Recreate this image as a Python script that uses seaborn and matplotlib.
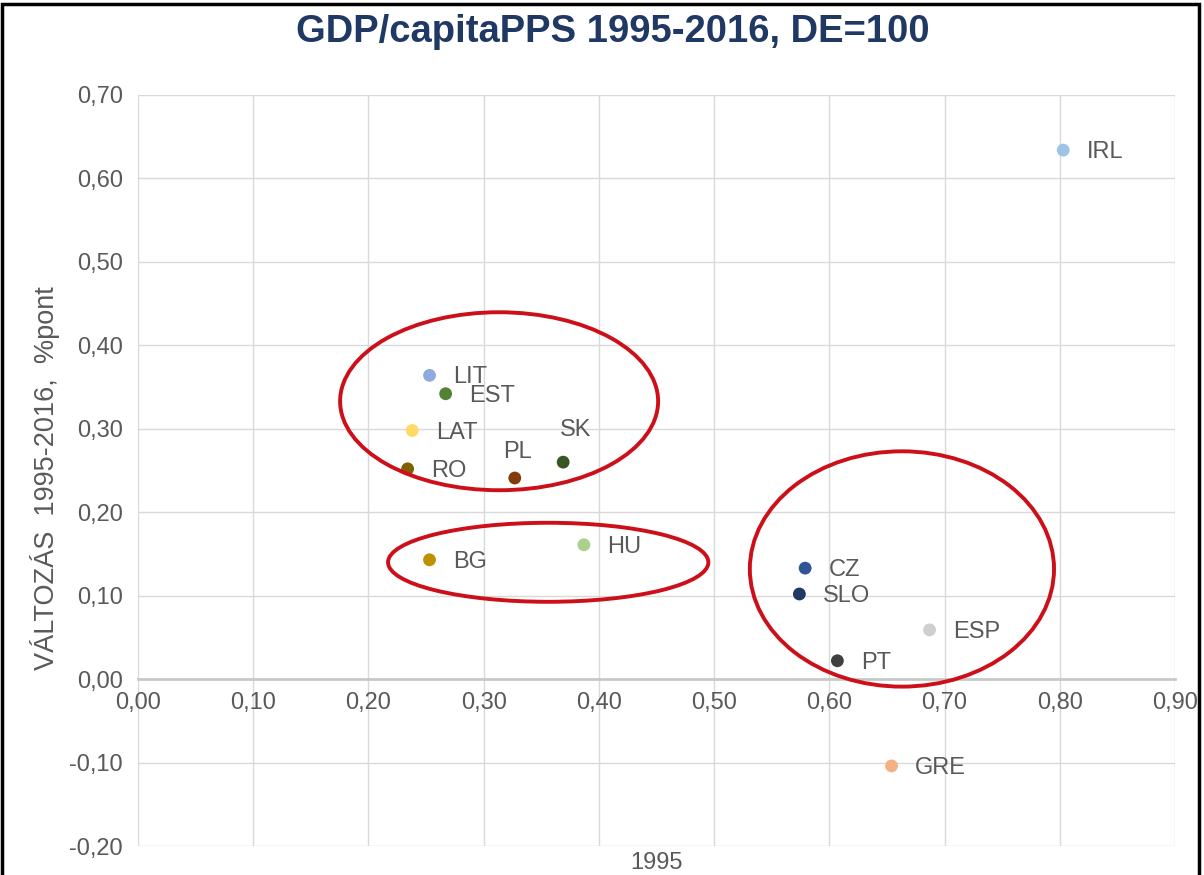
import matplotlib
matplotlib.use("Agg")
import matplotlib.pyplot as plt
import seaborn as sns
import pandas as pd
from matplotlib.patches import Ellipse, Rectangle

# ---- data ----
countries = ["IRL", "LIT", "EST", "LAT", "RO", "PL", "SK", "BG", "HU",
             "CZ", "SLO", "ESP", "PT", "GRE"]
gdp_1995 = [0.803, 0.253, 0.267, 0.238, 0.234, 0.327, 0.369, 0.253, 0.387,
            0.579, 0.574, 0.687, 0.607, 0.654]
change_1995_2016 = [0.634, 0.364, 0.342, 0.298, 0.252, 0.241, 0.260, 0.143, 0.161,
                    0.133, 0.102, 0.059, 0.022, -0.104]
x_ticks = [0.0, 0.1, 0.2, 0.3, 0.4, 0.5, 0.6, 0.7, 0.8, 0.9]
y_ticks = [-0.2, -0.1, 0.0, 0.1, 0.2, 0.3, 0.4, 0.5, 0.6, 0.7]
title = "GDP/capitaPPS 1995-2016, DE=100"
x_label = "1995"
y_label = "VÁLTOZÁS  1995-2016,  %pont"

# ---- styles ----
colors = {"IRL": "#9dc3e6", "LIT": "#8faadc", "EST": "#548235", "LAT": "#ffd966",
          "RO": "#7f6000", "PL": "#843c0c", "SK": "#375623", "BG": "#bf9000",
          "HU": "#a9d18e", "CZ": "#2f5597", "SLO": "#203864", "ESP": "#d0cece",
          "PT": "#404040", "GRE": "#f4b183"}
label_offsets = {"PL": (2, 19, "center"), "SK": (9, 23, "center")}
# highlight ellipses: (cx, cy, width, height) in data units
ellipses = [(0.3134, 0.333, 0.276, 0.2133),
            (0.356, 0.140, 0.278, 0.0947),
            (0.663, 0.132, 0.264, 0.282)]

df = pd.DataFrame({"country": countries, "x": gdp_1995, "y": change_1995_2016})

sns.set_theme(style="white")
plt.rcParams["font.family"] = ["Liberation Sans", "DejaVu Sans"]

fig = plt.figure(figsize=(12.04, 8.75), dpi=100)
ax = fig.add_axes([138 / 1204, 1 - 846 / 875, (1175 - 138) / 1204, (846 - 95) / 875])

sns.scatterplot(data=df, x="x", y="y", hue="country", palette=colors,
                s=85, edgecolor="none", legend=False, ax=ax, zorder=3)

ax.set_xlim(0, 0.9)
ax.set_ylim(-0.2, 0.7)
ax.set_xticks(x_ticks)
ax.set_yticks(y_ticks)
fmt = lambda v: f"{v:.2f}".replace(".", ",").replace("-0,00", "0,00")
ax.set_xticklabels([fmt(v) for v in x_ticks])
ax.set_yticklabels([fmt(v) for v in y_ticks])
ax.grid(True, color="#d9d9d9", linewidth=1)
ax.set_axisbelow(True)
for s in ["top", "right", "left"]:
    ax.spines[s].set_visible(False)
ax.spines["bottom"].set_position(("data", 0))
ax.spines["bottom"].set_color("#c8c8c8")
ax.spines["bottom"].set_linewidth(2)
ax.tick_params(axis="both", length=0, labelsize=17, labelcolor="#595959")
ax.tick_params(axis="x", pad=9)
ax.tick_params(axis="y", pad=11)
ax.set_xlabel("")
ax.set_ylabel("")

for c, xv, yv in zip(countries, gdp_1995, change_1995_2016):
    dx, dy, ha = label_offsets.get(c, (17, -1.5, "left"))
    ax.annotate(c, (xv, yv), xytext=(dx, dy), textcoords="offset points",
                ha=ha, va="center", fontsize=17, color="#595959", zorder=4)

for cx, cy, w, h in ellipses:
    ax.add_patch(Ellipse((cx, cy), w, h, fill=False, edgecolor="#cc0f18",
                         linewidth=2.8, zorder=5, clip_on=False))

ax.text(0.5, -0.008, x_label, transform=ax.transAxes, ha="center", va="top",
        fontsize=17, color="#595959")
ax.text(-0.0897, 0.49, y_label, transform=ax.transAxes, ha="center", va="center",
        rotation=90, fontsize=19.5, color="#595959")

fig.text(613 / 1204, 1 - 32 / 875, title, ha="center", va="center",
         fontsize=27.5, fontweight="bold", color="#1f3864")

fig.patches.append(Rectangle((2 / 1204, -0.05), 1197 / 1204, 1.05 - 4 / 875,
                             transform=fig.transFigure, fill=False,
                             edgecolor="black", linewidth=2.5, zorder=10))

fig.savefig("out.png", dpi=100)
